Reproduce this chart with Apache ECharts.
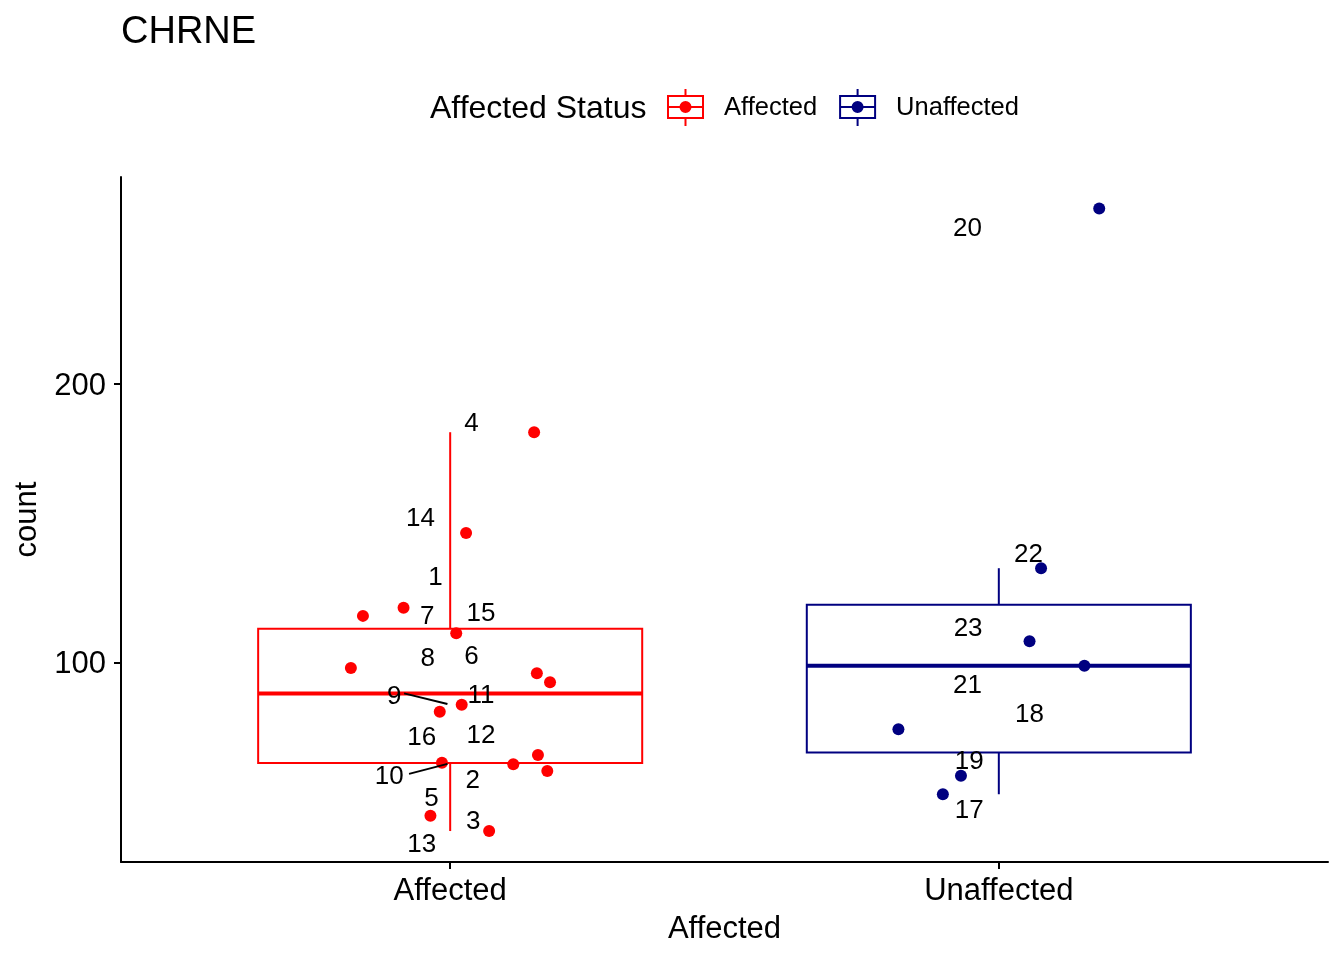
<!DOCTYPE html>
<html>
<head>
<meta charset="utf-8">
<title>CHRNE</title>
<script src="https://cdn.jsdelivr.net/npm/echarts@6/dist/echarts.min.js"></script>
<style>
  html, body { margin: 0; padding: 0; background: #fff; }
  #chart { width: 1344px; height: 960px; }
</style>
</head>
<body>
<div id="chart"></div>
<script>
var categories = ['Affected', 'Unaffected'];
var groupColors = ['#ff0000', '#000080'];

// sample ids, counts and the horizontal jitter of each point (category 1 = Affected, 2 = Unaffected)
var affectedIds = ['4', '14', '1', '7', '15', '8', '6', '11', '9', '16', '12', '10', '2', '5', '3', '13'];
var affectedCount = [182.7, 146.5, 119.7, 116.8, 110.6, 98.1, 96.2, 93.0, 84.9, 82.4, 66.9, 64.1, 63.6, 61.1, 45.1, 39.6];
var affectedJitter = [1.153, 1.029, 0.915, 0.841, 1.011, 0.819, 1.158, 1.182, 1.021, 0.981, 1.160, 0.985, 1.115, 1.177, 0.964, 1.071];
// where the repelled text labels ended up
var affectedLabelX = [1.039, 0.946, 0.973, 0.958, 1.056, 0.959, 1.039, 1.056, 0.898, 0.948, 1.056, 0.889, 1.041, 0.966, 1.042, 0.948];
var affectedLabelY = [186.5, 152.2, 131.2, 117.1, 118.1, 102.2, 102.8, 89.0, 88.4, 73.8, 74.3, 59.7, 58.2, 51.9, 43.6, 35.2];

var unaffectedIds = ['20', '22', '23', '21', '18', '19', '17'];
var unaffectedCount = [263.0, 133.9, 107.7, 98.9, 76.1, 59.4, 52.8];
var unaffectedJitter = [2.183, 2.077, 2.056, 2.156, 1.817, 1.931, 1.898];
var unaffectedLabelX = [1.943, 2.054, 1.944, 1.943, 2.056, 1.946, 1.946];
var unaffectedLabelY = [256.4, 139.5, 112.9, 92.4, 82.1, 65.3, 47.4];

// label leader lines [x1, y1, x2, y2]
var segments = [[0.916, 89.0, 0.995, 85.2], [0.925, 60.1, 0.995, 63.7]];

var yTicks = [100, 200];
var FONT = 'Liberation Sans, Arial, Helvetica, sans-serif';

// quantile type 7 (R default)
function quantile(s, p) {
    var h = (s.length - 1) * p, i = Math.floor(h);
    var next = i + 1 < s.length ? s[i + 1] : s[i];
    return s[i] + (h - i) * (next - s[i]);
}
function boxStats(values, center) {
    var s = values.slice().sort(function (a, b) { return a - b; });
    var q1 = quantile(s, 0.25), med = quantile(s, 0.5), q3 = quantile(s, 0.75);
    var iqr = q3 - q1;
    var inside = s.filter(function (v) { return v >= q1 - 1.5 * iqr && v <= q3 + 1.5 * iqr; });
    return [center, inside[0], q1, med, q3, inside[inside.length - 1]];
}

function renderBox(params, api) {
    var c = api.value(0), half = 0.35;
    var color = api.visual('color');
    var lo = api.coord([c, api.value(1)]);
    var q1 = api.coord([c, api.value(2)]);
    var q3 = api.coord([c, api.value(4)]);
    var hi = api.coord([c, api.value(5)]);
    var bl = api.coord([c - half, api.value(2)]);
    var tr = api.coord([c + half, api.value(4)]);
    var ml = api.coord([c - half, api.value(3)]);
    var mr = api.coord([c + half, api.value(3)]);
    return {
        type: 'group',
        children: [
            { type: 'line', shape: { x1: hi[0], y1: hi[1], x2: q3[0], y2: q3[1] }, style: { stroke: color, lineWidth: 2 } },
            { type: 'line', shape: { x1: q1[0], y1: q1[1], x2: lo[0], y2: lo[1] }, style: { stroke: color, lineWidth: 2 } },
            { type: 'rect', shape: { x: bl[0], y: tr[1], width: tr[0] - bl[0], height: bl[1] - tr[1] },
              style: { fill: '#fff', stroke: color, lineWidth: 2 } },
            { type: 'line', shape: { x1: ml[0], y1: ml[1], x2: mr[0], y2: mr[1] }, style: { stroke: color, lineWidth: 4 } }
        ]
    };
}

function labelRenderer(ids) {
    return function (params, api) {
        var p = api.coord([api.value(0), api.value(1)]);
        return {
            type: 'text', x: p[0], y: p[1] + 2,
            style: { text: ids[params.dataIndex], fill: '#000', fontSize: 26, fontFamily: FONT,
                     align: 'center', verticalAlign: 'middle' }
        };
    };
}

function pairs(xs, ys) {
    return xs.map(function (x, i) { return [x, ys[i]]; });
}

// boxplot legend key: outline box, middle bar, whiskers, dot
var keyIcon = 'path://M0 6h37v2h-37z M0 28h37v2h-37z M0 6h2v24h-2z M35 6h2v24h-2z M0 17h37v2h-37z' +
    ' M17.5 0h2v6h-2z M17.5 30h2v7h-2z M12.5 18a6 6 0 1 1 12 0a6 6 0 1 1 -12 0z';

var chart = echarts.init(document.getElementById('chart'));
chart.setOption({
    animation: false,
    backgroundColor: '#fff',
    textStyle: { fontFamily: FONT },
    title: [
        { text: 'CHRNE', left: 121, top: 14, padding: 0,
          textStyle: { fontSize: 38, fontWeight: 'normal', color: '#000', fontFamily: FONT } },
        { text: 'Affected Status', left: 430, top: 93, padding: 0,
          textStyle: { fontSize: 32, fontWeight: 'normal', color: '#000', fontFamily: FONT } }
    ],
    legend: {
        left: 667, top: 89, padding: 0,
        itemWidth: 37, itemHeight: 37, itemGap: 22,
        data: [
            { name: categories[0], icon: keyIcon },
            { name: categories[1], icon: keyIcon }
        ],
        itemStyle: { borderWidth: 0, opacity: 1 },
        textStyle: { fontSize: 25.5, color: '#000', fontFamily: FONT, padding: [3, 0, 0, 15] }
    },
    grid: { left: 121, right: 16, top: 177, bottom: 98 },
    xAxis: {
        type: 'value', min: 0.4, max: 2.6,
        name: 'Affected', nameLocation: 'middle', nameGap: 52,
        nameTextStyle: { fontSize: 31, color: '#000', fontFamily: FONT },
        axisLine: { lineStyle: { color: '#000', width: 2 } },
        axisTick: { customValues: [1, 2], length: 7, lineStyle: { color: '#000', width: 2 } },
        axisLabel: { customValues: [1, 2], margin: 14, fontSize: 31, color: '#000', fontFamily: FONT,
                     formatter: function (v) { return categories[Math.round(v) - 1]; } },
        splitLine: { show: false }
    },
    yAxis: {
        type: 'value', min: 28.49, max: 274.27,
        name: 'count', nameLocation: 'middle', nameGap: 71,
        nameTextStyle: { fontSize: 31, color: '#000', fontFamily: FONT },
        axisLine: { show: true, lineStyle: { color: '#000', width: 2 } },
        axisTick: { show: true, customValues: yTicks, length: 7, lineStyle: { color: '#000', width: 2 } },
        axisLabel: { customValues: yTicks, margin: 15, color: '#000',
                     formatter: function (v) { return '{t|' + v + '}'; },
                     rich: { t: { fontSize: 31, color: '#000', fontFamily: FONT, padding: [4, 0, 0, 0] } } },
        splitLine: { show: false }
    },
    series: [
        { name: categories[0], type: 'scatter', z: 3, symbolSize: 12,
          itemStyle: { color: groupColors[0], opacity: 1 }, data: pairs(affectedJitter, affectedCount) },
        { name: categories[1], type: 'scatter', z: 3, symbolSize: 12,
          itemStyle: { color: groupColors[1], opacity: 1 }, data: pairs(unaffectedJitter, unaffectedCount) },
        { name: categories[0], type: 'custom', z: 1, renderItem: renderBox,
          itemStyle: { color: groupColors[0] }, data: [boxStats(affectedCount, 1)] },
        { name: categories[1], type: 'custom', z: 1, renderItem: renderBox,
          itemStyle: { color: groupColors[1] }, data: [boxStats(unaffectedCount, 2)] },
        { type: 'custom', z: 4, renderItem: function (params, api) {
              var a = api.coord([api.value(0), api.value(1)]);
              var b = api.coord([api.value(2), api.value(3)]);
              return { type: 'line', shape: { x1: a[0], y1: a[1], x2: b[0], y2: b[1] },
                       style: { stroke: '#000', lineWidth: 2 } };
          }, data: segments },
        { type: 'custom', z: 5, renderItem: labelRenderer(affectedIds),
          data: pairs(affectedLabelX, affectedLabelY) },
        { type: 'custom', z: 5, renderItem: labelRenderer(unaffectedIds),
          data: pairs(unaffectedLabelX, unaffectedLabelY) }
    ]
});
</script>
</body>
</html>
